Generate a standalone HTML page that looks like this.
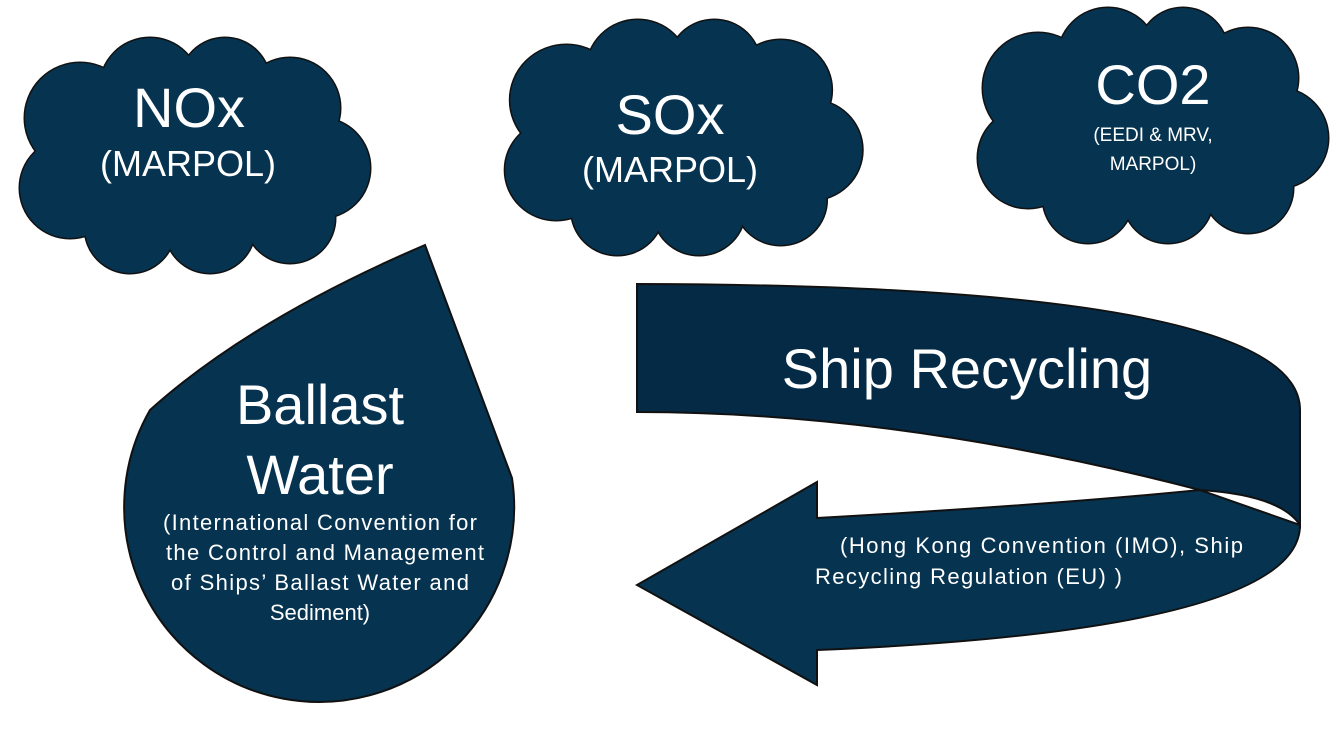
<!DOCTYPE html>
<html><head><meta charset="utf-8"><style>body{margin:0;background:#fff}svg{display:block}</style></head><body>
<svg width="1343" height="731" viewBox="0 0 1343 731" xmlns="http://www.w3.org/2000/svg" font-family="Liberation Sans, Arial, sans-serif">
<defs>
<g id="cloudS">
<circle cx="70" cy="80" r="55"/><circle cx="140" cy="50" r="50"/><circle cx="215" cy="45" r="45"/><circle cx="280" cy="70" r="50"/><circle cx="310" cy="130" r="50"/><circle cx="280" cy="180" r="45"/><circle cx="200" cy="190" r="45"/><circle cx="120" cy="190" r="45"/><circle cx="60" cy="150" r="50"/><circle cx="180" cy="120" r="90"/>
</g>
</defs>
<g>
<g transform="translate(10,38)"><use href="#cloudS" fill="#063350" stroke="#111" stroke-width="3"/><use href="#cloudS" fill="#063350"/></g>
<g transform="translate(495,20) scale(1.02,1)"><use href="#cloudS" fill="#063350" stroke="#111" stroke-width="3"/><use href="#cloudS" fill="#063350"/></g>
<g transform="translate(968,8)"><use href="#cloudS" fill="#063350" stroke="#111" stroke-width="3"/><use href="#cloudS" fill="#063350"/></g>
</g>
<g fill="#fff" text-anchor="middle">
<text x="189" y="127" font-size="56">NOx</text>
<text x="188" y="176" font-size="36">(MARPOL)</text>
<text x="670" y="134" font-size="56">SOx</text>
<text x="670" y="182" font-size="36">(MARPOL)</text>
<text x="1153" y="104" font-size="56">CO2</text>
<text x="1153" y="141" font-size="19">(EEDI &amp; MRV,</text>
<text x="1153" y="170" font-size="19">MARPOL)</text>
</g>
<path d="M425,245 L512,478 A195,195 0 1 1 150,410 Q250,320 425,245 Z" fill="#063350" stroke="#111" stroke-width="2"/>
<g fill="#fff" text-anchor="middle">
<text x="320" y="424" font-size="56">Ballast</text>
<text x="320" y="494" font-size="56">Water</text>
<text x="320" y="530" font-size="22" textLength="314">(International Convention for</text>
<text x="325" y="560" font-size="22" textLength="318">the Control and Management</text>
<text x="320" y="590" font-size="22" textLength="298">of Ships’ Ballast Water and</text>
<text x="320" y="620" font-size="22">Sediment)</text>
</g>
<path d="M817,518 Q1050,505 1200,490 L1300,525 Q1300,630 817,650 L817,685 L637,585 L817,482 Z" fill="#063350" stroke="#111" stroke-width="2"/>
<path d="M637,284 Q1300,285 1300,410 L1300,525 Q1280,495 1200,490 Q900,412 637,412 Z" fill="#042a45" stroke="#111" stroke-width="2"/>
<g fill="#fff">
<text x="967" y="388" font-size="56" text-anchor="middle">Ship Recycling</text>
<text x="840" y="553" font-size="22" textLength="403">(Hong Kong Convention (IMO), Ship</text>
<text x="815" y="584" font-size="22" textLength="307">Recycling Regulation (EU) )</text>
</g>
</svg>
</body></html>
